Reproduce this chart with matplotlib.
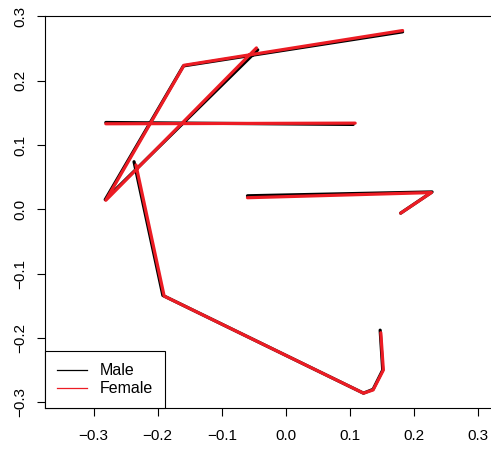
import numpy as np
import matplotlib
matplotlib.use("Agg")
import matplotlib.pyplot as plt

plt.rcParams["font.family"] = ["Liberation Sans", "DejaVu Sans"]

# ----------------------------
# Data (strokes separated by nan)
# ----------------------------
nan = np.nan
male_x = [0.182, -0.160, -0.282, -0.044, nan,
          -0.281, 0.105, nan,
          -0.060, 0.228, 0.179, nan,
          -0.237, -0.192, 0.121, 0.136, 0.151, 0.147]
male_y = [0.276, 0.223, 0.015, 0.248, nan,
          0.135, 0.132, nan,
          0.021, 0.027, -0.006, nan,
          0.074, -0.134, -0.286, -0.280, -0.250, -0.188]

female_x = [0.182, -0.159, -0.281, -0.046, nan,
            -0.281, 0.108, nan,
            -0.060, 0.227, 0.179, nan,
            -0.234, -0.190, 0.121, 0.136, 0.152, 0.148]
female_y = [0.278, 0.224, 0.014, 0.251, nan,
            0.133, 0.134, nan,
            0.018, 0.026, -0.006, nan,
            0.069, -0.135, -0.286, -0.281, -0.250, -0.192]

ticks = [-0.3, -0.2, -0.1, 0.0, 0.1, 0.2, 0.3]

# ----------------------------
# Plot
# ----------------------------
fig = plt.figure(figsize=(4.91, 4.5), dpi=100)
ax = fig.add_axes([0.091, 0.0927, 0.913, 0.8717])

line_kw = dict(linewidth=2.3, solid_capstyle="round", solid_joinstyle="round")
ax.plot(male_x, male_y, color="black", **line_kw)
ax.plot(female_x, female_y, color="#ec1c24", **line_kw)

ax.set_xlim(-0.3764, 0.323)
ax.set_ylim(-0.3095, 0.3006)
ax.set_xticks(ticks)
ax.set_yticks(ticks)
ax.set_xticklabels([f"{t:.1f}".replace("-", "\u2212") for t in ticks])
ax.set_yticklabels([f"{t:.1f}".replace("-", "\u2212") for t in ticks],
                   rotation=90, va="center")
ax.tick_params(axis="x", length=5.4, width=0.8, pad=9.5, labelsize=11)
ax.tick_params(axis="y", length=5.8, width=0.8, pad=7, labelsize=11)
for s in ax.spines.values():
    s.set_linewidth(0.8)

# legend
h1, = ax.plot([], [], color="black", linewidth=0.9)
h2, = ax.plot([], [], color="#ec1c24", linewidth=0.9)
leg = ax.legend([h1, h2], ["Male", "Female"], loc="lower left",
                borderaxespad=0, fancybox=False, framealpha=1,
                edgecolor="black", fontsize=11.5, handlelength=1.9,
                handletextpad=0.8, borderpad=0.75, labelspacing=0.2)
leg.get_frame().set_linewidth(0.8)

fig.savefig("out.png", dpi=100)
